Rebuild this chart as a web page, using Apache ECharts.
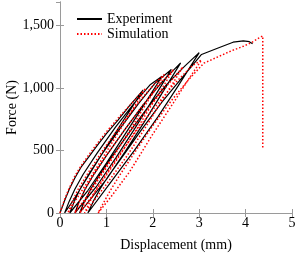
<!DOCTYPE html>
<html>
<head>
<meta charset="utf-8">
<script src="https://cdn.jsdelivr.net/npm/echarts@6/dist/echarts.min.js"></script>
<style>html,body{margin:0;padding:0;background:#fff}#c{width:301px;height:258px}</style>
</head>
<body>
<div id="c"></div>
<script>
// Experiment (displacement mm, force N) — cyclic load/unload path
const experiment = [
  [0,0],[0.1,100],[0.2,190],[0.32,280],[0.45,365],[0.6,440],[0.8,540],[1.0,635],[1.25,744],[1.5,860],[1.79,985],
  [1.4,760],[1.0,530],[0.6,290],[0.3,110],[0.10,0],
  [0.2,95],[0.32,190],[0.5,310],[0.8,480],[1.2,690],[1.6,880],[1.95,1030],[2.2,1095],
  [1.8,860],[1.4,630],[1.0,400],[0.6,180],[0.21,0],
  [0.31,95],[0.43,190],[0.62,310],[0.9,470],[1.3,680],[1.7,880],[2.05,1040],[2.4,1150],
  [2.0,910],[1.6,670],[1.2,440],[0.8,220],[0.32,0],
  [0.42,95],[0.54,190],[0.73,310],[1.0,460],[1.4,670],[1.8,870],[2.2,1050],[2.6,1202],
  [2.2,960],[1.8,720],[1.4,490],[1.0,270],[0.42,0],
  [0.53,95],[0.66,190],[0.85,300],[1.1,440],[1.5,650],[1.9,850],[2.3,1030],[2.7,1180],[3.0,1285],
  [2.55,1020],[2.11,770],[1.6,500],[1.1,250],[0.6,0],
  [0.72,95],[0.86,190],[1.05,300],[1.4,480],[1.8,690],[2.2,890],[2.6,1070],[2.85,1180],[3.05,1270],
  [3.38,1318],[3.73,1368],[3.95,1378],[4.08,1372],[4.15,1355]
];
// Simulation path
const simulation = [
  [0,0],[0.1,110],[0.2,200],[0.32,295],[0.45,375],[0.6,455],[0.8,555],[1.0,650],[1.3,780],[1.6,900],[1.85,1000],
  [1.45,760],[1.05,520],[0.65,280],[0.35,110],[0.17,0],
  [0.27,95],[0.39,190],[0.57,300],[0.9,490],[1.3,700],[1.7,890],[2.05,1040],[2.25,1110],
  [1.85,870],[1.45,630],[1.05,390],[0.65,170],[0.32,0],
  [0.42,95],[0.54,190],[0.73,310],[1.0,460],[1.4,670],[1.8,870],[2.15,1030],[2.45,1150],
  [2.05,910],[1.65,670],[1.25,440],[0.85,220],[0.43,0],
  [0.54,95],[0.66,190],[0.86,305],[1.15,460],[1.55,670],[1.95,860],[2.35,1040],[2.65,1170],
  [2.25,930],[1.85,690],[1.45,460],[1.0,230],[0.53,0],
  [0.65,95],[0.78,190],[0.98,305],[1.25,450],[1.65,660],[2.05,850],[2.45,1030],[2.85,1180],[3.05,1225],
  [2.75,1060],[2.44,880],[1.98,620],[1.5,330],[1.1,130],[0.82,0],
  [0.95,90],[1.1,190],[1.3,310],[1.6,480],[2.0,700],[2.4,900],[2.8,1080],[3.1,1200],[3.4,1250],
  [3.7,1300],[3.95,1335],[4.15,1370],[4.28,1400],[4.37,1418],[4.37,520]
];
const xTicks = [0,1,2,3,4,5];
const yTicks = [0,500,1000,1500];
const seriesNames = ['Experiment','Simulation'];

const font = '"Liberation Serif", "Times New Roman", serif';
const axisCol = '#9a9a9a';
const fmtY = v => yTicks.includes(v) ? v.toLocaleString('en-US') : '';
const fmtX = v => xTicks.includes(v) ? String(v) : '';

const chart = echarts.init(document.getElementById('c'), null, {renderer:'canvas'});
chart.setOption({
  animation:false,
  backgroundColor:'#fff',
  grid:{left:60,right:9,top:2,bottom:45,containLabel:false,outerBoundsMode:'none'},
  legend:{
    orient:'vertical', left:71, top:7, itemWidth:25, itemHeight:8, itemGap:1,
    textStyle:{fontFamily:font,fontSize:14,color:'#000'},
    itemStyle:{opacity:0},
    data:seriesNames
  },
  xAxis:[
    {type:'value',min:0,max:5,interval:1,
     name:'Displacement (mm)',nameLocation:'middle',nameGap:25,nameMoveOverlap:false,
     nameTextStyle:{fontFamily:font,fontSize:14,color:'#000'},
     axisLine:{show:true,lineStyle:{color:axisCol,width:1}},
     axisTick:{show:true,inside:true,length:4,lineStyle:{color:axisCol}},
     axisLabel:{fontFamily:font,fontSize:14,color:'#000',margin:3,formatter:fmtX},
     splitLine:{show:false}},
    {type:'value',min:0,max:5,interval:1,position:'top',
     axisLine:{show:true,lineStyle:{color:axisCol,width:1}},
     axisTick:{show:true,inside:true,length:4,lineStyle:{color:axisCol}},
     axisLabel:{show:false},splitLine:{show:false}}
  ],
  yAxis:[
    {type:'value',min:0,max:1690,interval:500,
     name:'Force (N)',nameLocation:'middle',nameGap:41,nameMoveOverlap:false,
     nameTextStyle:{fontFamily:font,fontSize:14,color:'#000'},
     axisLine:{show:true,lineStyle:{color:axisCol,width:1}},
     axisTick:{show:true,inside:true,length:4,lineStyle:{color:axisCol}},
     axisLabel:{fontFamily:font,fontSize:14,color:'#000',margin:6,formatter:fmtY,showMaxLabel:false},
     splitLine:{show:false}},
    {type:'value',min:0,max:1690,interval:500,position:'right',
     axisLine:{show:true,lineStyle:{color:axisCol,width:1}},
     axisTick:{show:true,inside:true,length:4,lineStyle:{color:axisCol}},
     axisLabel:{show:false},splitLine:{show:false}}
  ],
  series:[
    {name:seriesNames[0],type:'line',data:experiment,showSymbol:false,symbol:'none',
     color:'#000',lineStyle:{color:'#000',width:1.2}},
    {name:seriesNames[1],type:'line',data:simulation,showSymbol:false,symbol:'none',
     color:'#ff0000',lineStyle:{color:'#ff0000',width:1.5,type:[1.5,2]}}
  ]
});
</script>
</body>
</html>
